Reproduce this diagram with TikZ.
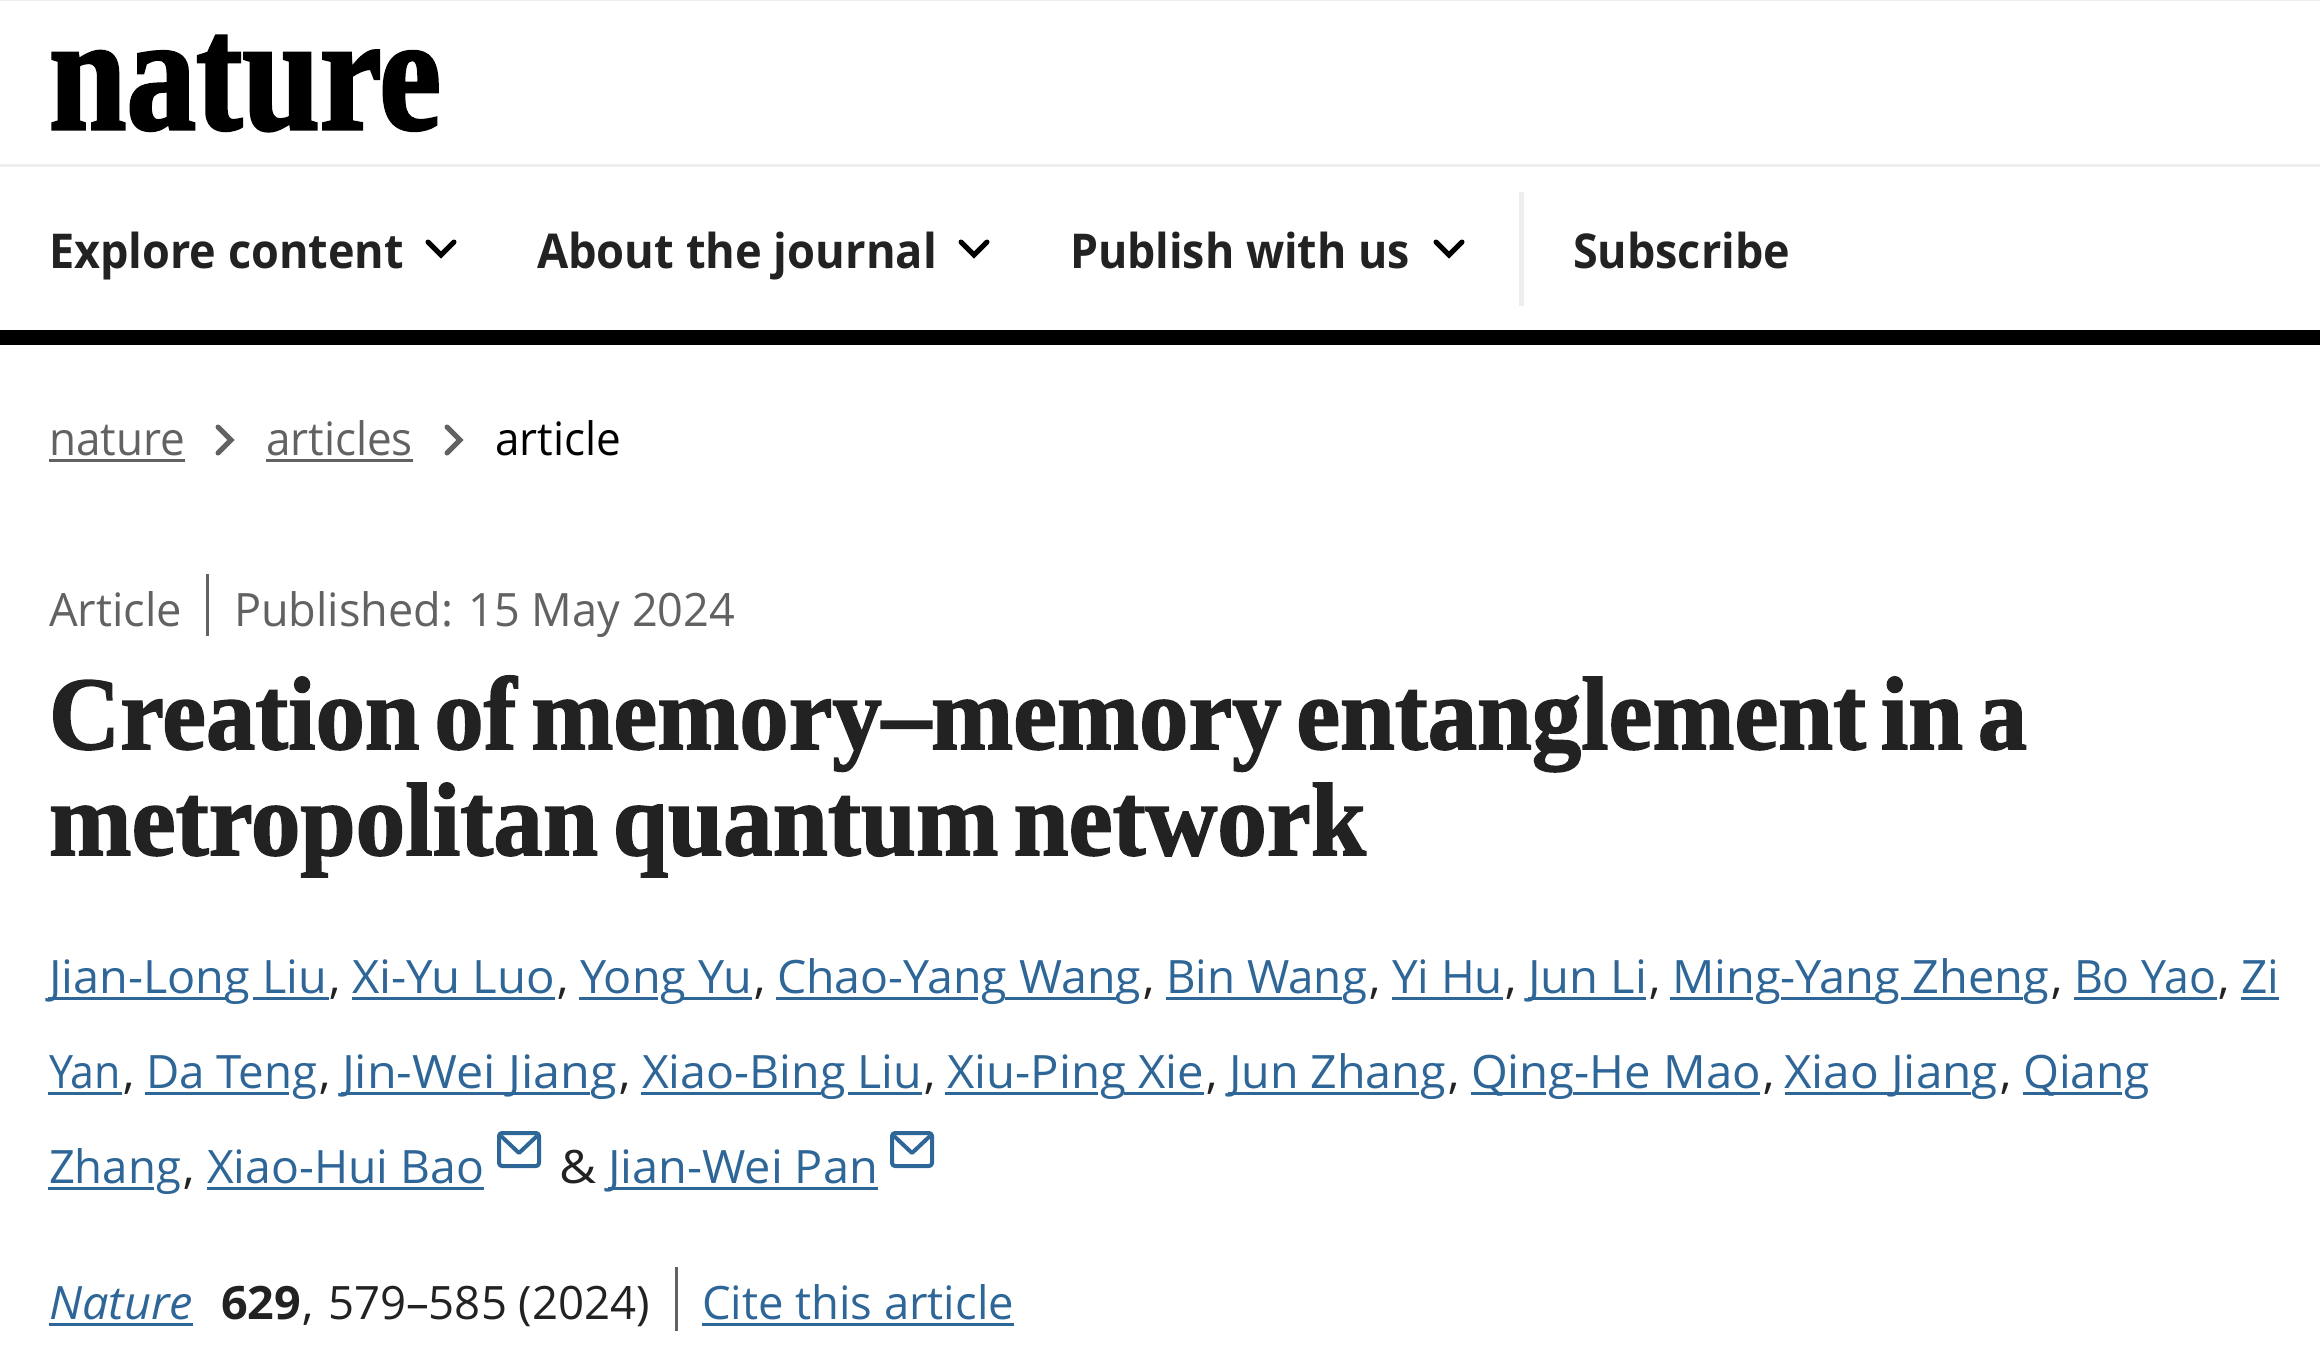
\documentclass[tikz,border=0pt]{standalone}
\usepackage{fontspec}
\setmainfont{Open Sans}
\newfontfamily\titlefont[FakeBold=1.6,WordSpace=0.6]{Liberation Serif Bold}
\newfontfamily\logofont[FakeBold=2]{Liberation Serif Bold}
\definecolor{linkc}{HTML}{2F6698}
\definecolor{greyc}{HTML}{626262}
\definecolor{darkc}{HTML}{222222}
\definecolor{rulec}{HTML}{EEEEEE}
\tikzset{
  txt/.style={anchor=base west,inner sep=0pt,outer sep=0pt},
  chev/.style={draw=#1,line width=5pt,line cap=round,line join=miter},
  mail/.style={draw=linkc,line width=4pt,line join=round}
}
% #1 name, #2 x0, #3 x1, #4 baseline, #5 colour, #6 font, #7 text
\newcommand{\stretched}[7]{%
  \node[txt,text=#5] (#1) at (#2,#4) {\pgfmathsetmacro{\stwd}{#3-#2}\resizebox*{\stwd pt}{\totalheight}{#6{}#7}};}
\newcommand{\ul}[4]{\fill[#4] (#1,#3+4.2) rectangle (#2,#3+7);}
\newcommand{\body}{\fontsize{46}{46}\selectfont}
\newcommand{\nav}{\fontsize{48}{48}\selectfont\bfseries}
\newcommand{\lnk}[5]{\stretched{#1}{#2}{#3}{#4}{linkc}{\body}{#5}}
\begin{document}
\begin{tikzpicture}[x=1pt,y=-1pt]
\useasboundingbox (0,0) rectangle (2320,1362);
\fill[white] (0,0) rectangle (2320,1362);
\fill[rulec] (0,0) rectangle (2320,1.5);
\fill[rulec] (0,164) rectangle (2320,166.5);
\fill[black] (0,330) rectangle (2320,345);
\fill[rulec] (1519,192) rectangle (1523.5,306);
% logo
\stretched{logo}{49}{441}{129}{black}{\fontsize{165}{165}\selectfont\logofont}{nature}
% nav
\stretched{nava}{49}{404}{268}{darkc}{\nav}{Explore content}
\stretched{navb}{537}{937}{268}{darkc}{\nav}{About the journal}
\stretched{navc}{1070}{1410}{268}{darkc}{\nav}{Publish with us}
\stretched{navd}{1573}{1790}{268}{darkc}{\nav}{Subscribe}
\draw[chev=black] (428,242)--(441,255)--(454,242);
\draw[chev=black] (961,242)--(974,255)--(987,242);
\draw[chev=black] (1436,242)--(1449,255)--(1462,242);
% breadcrumbs
\stretched{cra}{49}{185}{455}{greyc}{\body}{nature}
\ul{49}{185}{455}{greyc}
\stretched{crb}{266}{413}{455}{greyc}{\body}{articles}
\ul{266}{413}{455}{greyc}
\stretched{crc}{495}{621}{455}{black}{\body}{article}
\draw[chev=greyc] (218,427)--(231,440)--(218,453);
\draw[chev=greyc] (447,427)--(460,440)--(447,453);
% article line
\stretched{arta}{49}{182}{626}{greyc}{\body}{Article}
\fill[greyc] (206,574) rectangle (208.5,636);
\stretched{artb}{234}{735}{626}{greyc}{\body}{Published: 15 May 2024}
% title
\stretched{tia}{49}{2027}{749}{darkc}{\fontsize{104}{104}\selectfont\titlefont}{Creation of memory–memory entanglement in a}
\stretched{tib}{49}{1366}{855}{darkc}{\fontsize{104}{104}\selectfont\titlefont}{metropolitan quantum network}
% authors line 1
\lnk{aa}{49}{327}{993}{Jian-Long Liu}
\lnk{ab}{352}{555}{993}{Xi-Yu Luo}
\lnk{ac}{580}{752}{993}{Yong Yu}
\lnk{ad}{777}{1141}{993}{Chao-Yang Wang}
\lnk{ae}{1166}{1367}{993}{Bin Wang}
\lnk{af}{1392}{1503}{993}{Yi Hu}
\lnk{ag}{1528}{1647}{993}{Jun Li}
\lnk{ah}{1672}{2049}{993}{Ming-Yang Zheng}
\lnk{ai}{2074}{2216}{993}{Bo Yao}
\lnk{aj}{2241}{2279}{993}{Zi}
\foreach \p/\q in {48/226,253/329,352/555,579/658,682/752,776/978,1005/1116,1166/1342,1392/1503,1528/1646,1670/1753,1781/1875,1901/2023,2074/2217,2241/2279}
  {\ul{\p}{\q}{993}{linkc}}
% line 2
\lnk{ba}{49}{121}{1088}{Yan}
\lnk{bb}{146}{317}{1088}{Da Teng}
\lnk{bc}{342}{617}{1088}{Jin-Wei Jiang}
\lnk{bd}{642}{922}{1088}{Xiao-Bing Liu}
\lnk{be}{947}{1204}{1088}{Xiu-Ping Xie}
\lnk{bf}{1229}{1446}{1088}{Jun Zhang}
\lnk{bg}{1471}{1761}{1088}{Qing-He Mao}
\lnk{bh}{1784}{1998}{1088}{Xiao Jiang}
\lnk{bi}{2023}{2150}{1088}{Qiang}
\foreach \p/\q in {48/122,145/289,341/590,641/821,848/922,945/1098,1124/1204,1228/1419,1471/1546,1573/1760,1785/1971,2023/2122}
  {\ul{\p}{\q}{1088}{linkc}}
% commas
\foreach \n/\x/\y in {a/329/993,b/557/993,c/754/993,d/1143/993,e/1369/993,f/1505/993,g/1649/993,h/2051/993,i/2218/993,
  j/123/1088,k/319/1088,l/619/1088,m/924/1088,n/1206/1088,o/1448/1088,p/1763/1088,q/2000/1088,r/183/1183}
  \node[txt,text=darkc] (comma\n) at (\x,\y) {\body ,};
% line 3
\lnk{ca}{49}{181}{1183}{Zhang}
\lnk{cb}{207}{484}{1183}{Xiao-Hui Bao}
\stretched{amp}{559}{596}{1183}{darkc}{\body}{\&}
\lnk{cc}{608}{878}{1183}{Jian-Wei Pan}
\foreach \p/\q in {48/154,207/484,608/878}
  {\ul{\p}{\q}{1183}{linkc}}
\draw[mail,rounded corners=3pt] (499,1133) rectangle (539,1166);
\draw[mail] (501,1136)--(519,1153)--(537,1136);
\draw[mail,rounded corners=3pt] (892,1133) rectangle (932,1166);
\draw[mail] (894,1136)--(912,1153)--(930,1136);
% citation
\stretched{na}{49}{193}{1319}{linkc}{\body\itshape}{Nature}
\ul{49}{193}{1319}{linkc}
\stretched{nb}{221}{301}{1319}{darkc}{\body\bfseries}{629}
\node[txt,text=darkc] (nc) at (302,1319) {\body ,};
\stretched{nd}{328}{650}{1319}{darkc}{\body}{579–585 (2024)}
\fill[greyc] (675,1267) rectangle (677.5,1331);
\stretched{ne}{702}{1014}{1319}{linkc}{\body}{Cite this article}
\ul{702}{1014}{1319}{linkc}
\end{tikzpicture}
\end{document}
